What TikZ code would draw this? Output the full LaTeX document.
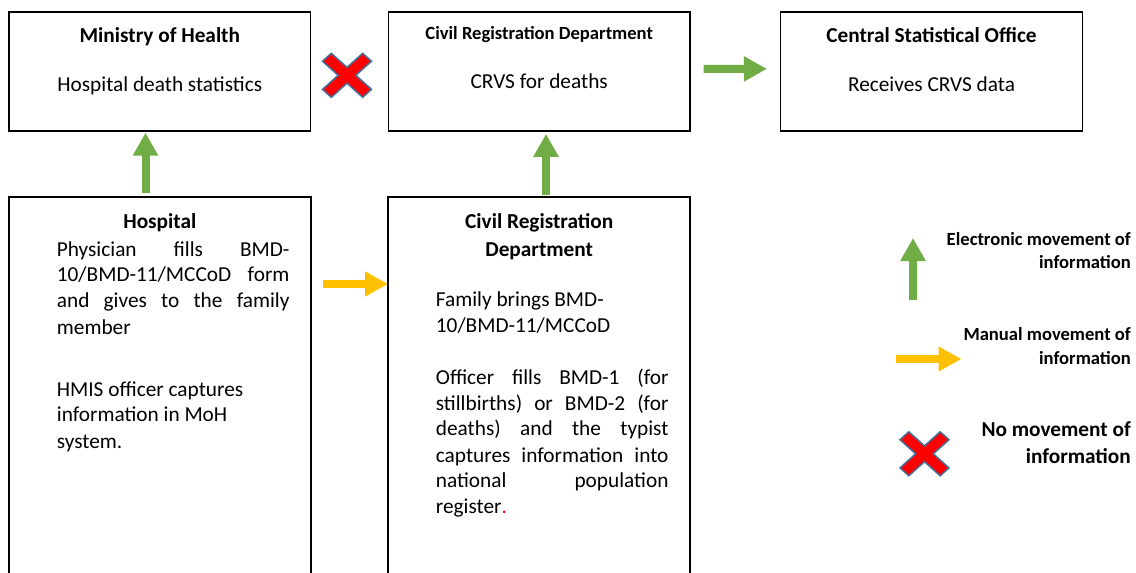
\documentclass[tikz,border=0pt]{standalone}
\usepackage{fontspec}
\setmainfont{Carlito}
\usetikzlibrary{arrows.meta}
\definecolor{elecgreen}{HTML}{70AD47}
\definecolor{manyellow}{HTML}{FFC000}
\definecolor{xred}{HTML}{FF0000}
\definecolor{xblue}{HTML}{41719C}
% one justified line of a paragraph
\newcommand\jline[1]{\makebox[232.6pt][s]{#1}}
\tikzset{
  box/.style={draw=black, line width=1.6pt, minimum width=301.7pt, inner sep=0pt},
  openbox/.style={minimum width=301.7pt, inner sep=0pt},
  boxline/.style={draw=black, line width=1.6pt},
  txt/.style={inner sep=0pt, font=\fontsize{21.3}{25}\selectfont},
  ttl/.style={inner sep=0pt, font=\fontsize{21.3}{25}\selectfont\bfseries},
  smallttl/.style={inner sep=0pt, font=\fontsize{18.6}{22}\selectfont\bfseries},
  elec/.style={draw=elecgreen, line width=8pt, -{Triangle[width=24pt,length=23pt]}},
  manual/.style={draw=manyellow, line width=7.5pt, -{Triangle[width=23.5pt,length=23pt]}},
  nomove/.pic={
    \filldraw[fill=xred, draw=xblue, line width=1.5pt, line join=miter, xscale=24.5, yscale=22]
      (0,0.36) -- (0.64,1) -- (1,0.64) -- (0.36,0) -- (1,-0.64) -- (0.64,-1)
      -- (0,-0.36) -- (-0.64,-1) -- (-1,-0.64) -- (-0.36,0) -- (-1,0.64)
      -- (-0.64,1) -- cycle;
  }
}
\begin{document}
\begin{tikzpicture}[x=1pt, y=-1pt]
\useasboundingbox (0,0) rectangle (1136,573);

% upper row of offices
\node[box, minimum height=118.7pt] (moh) at (159.8,71.5) {};
\node[box, minimum height=118.7pt] (crd) at (539.2,71.5) {};
\node[box, minimum height=119.3pt] (cso) at (931.5,71.35) {};

\node[ttl, anchor=base] (mohT) at (159.8,42.7) {Ministry of Health};
\node[txt, anchor=base] (mohB) at (159.8,91.7) {Hospital death statistics};
\node[smallttl, anchor=base] (crdT) at (539.2,39.3) {Civil Registration Department};
\node[txt, anchor=base] (crdB) at (539.2,88.3) {CRVS for deaths};
\node[ttl, anchor=base] (csoT) at (931.5,42.7) {Central Statistical Office};
\node[txt, anchor=base] (csoB) at (931.5,91.7) {Receives CRVS data};

% lower row, running off the bottom edge
\node[openbox, minimum height=380pt] (hosp) at (159.8,387.3) {};
\node[openbox, minimum height=380pt] (crdl) at (539.2,387.3) {};
\draw[boxline] (hosp.south west) |- (hosp.north east) -- (hosp.south east);
\draw[boxline] (crdl.south west) |- (crdl.north east) -- (crdl.south east);

\node[ttl, anchor=base] (hospT) at (159.8,228) {Hospital};
\node[txt, anchor=base west] (h1) at (56.7,256) {\jline{Physician fills BMD-}};
\node[txt, anchor=base west] (h2) at (56.7,281.7) {\jline{10/BMD-11/MCCoD form}};
\node[txt, anchor=base west] (h3) at (56.7,307.7) {\jline{and gives to the family}};
\node[txt, anchor=base west] (h4) at (56.7,334) {member};
\node[txt, anchor=base west] (h5) at (56.7,396) {HMIS officer captures};
\node[txt, anchor=base west] (h6) at (56.7,421.7) {information in MoH};
\node[txt, anchor=base west] (h7) at (56.7,448) {system.};

\node[ttl, anchor=base] (crdlT1) at (539.2,228.3) {Civil Registration};
\node[ttl, anchor=base] (crdlT2) at (539.2,256) {Department};
\node[txt, anchor=base west] (c1) at (435.7,306.7) {Family brings BMD-};
\node[txt, anchor=base west] (c2) at (435.7,332.3) {10/BMD-11/MCCoD};
\node[txt, anchor=base west] (c3) at (435.7,384) {\jline{Officer fills BMD-1 (for}};
\node[txt, anchor=base west] (c4) at (435.7,410) {\jline{stillbirths) or BMD-2 (for}};
\node[txt, anchor=base west] (c5) at (435.7,435.7) {\jline{deaths) and the typist}};
\node[txt, anchor=base west] (c6) at (435.7,462.3) {\jline{captures information into}};
\node[txt, anchor=base west] (c7) at (435.7,487.7) {\jline{national population}};
\node[txt, anchor=base west] (c8) at (435.7,513.3) {register{\color{red}.}};

% flows between offices
\draw[elec, shorten <=4pt, shorten >=1pt] ([xshift=-14.3pt]hosp.north) -- ([xshift=-14.3pt]moh.south);
\draw[elec, shorten <=2.3pt, shorten >=2.3pt] ([xshift=6.8pt]crdl.north) -- ([xshift=6.8pt]crd.south);
\draw[elec, shorten <=12.7pt, shorten >=13pt] ([yshift=2.5pt]crd.east) -- ([yshift=2.5pt]cso.west);
\draw[manual, shorten <=12.3pt] ([yshift=103.3pt]hosp.east) -- ([yshift=103.3pt]crdl.west);
\pic (nolink) at (347,75.3) {nomove};

% key
\coordinate (k1s) at (913,300);
\coordinate (k1e) at (913,238);
\coordinate (k2s) at (896,359);
\coordinate (k2e) at (961.5,359);
\draw[elec] (k1s) -- (k1e);
\draw[manual] (k2s) -- (k2e);
\pic (keyx) at (924.5,453.8) {nomove};
\node[smallttl, anchor=base east] (k1a) at (1131,245) {Electronic movement of};
\node[smallttl, anchor=base east] (k1b) at (1131,268.3) {information};
\node[smallttl, anchor=base east] (k2a) at (1131,340) {Manual movement of};
\node[smallttl, anchor=base east] (k2b) at (1131,364) {information};
\node[ttl, anchor=base east] (k3a) at (1131,436.7) {No movement of};
\node[ttl, anchor=base east] (k3b) at (1131,463.3) {information};
\end{tikzpicture}
\end{document}
